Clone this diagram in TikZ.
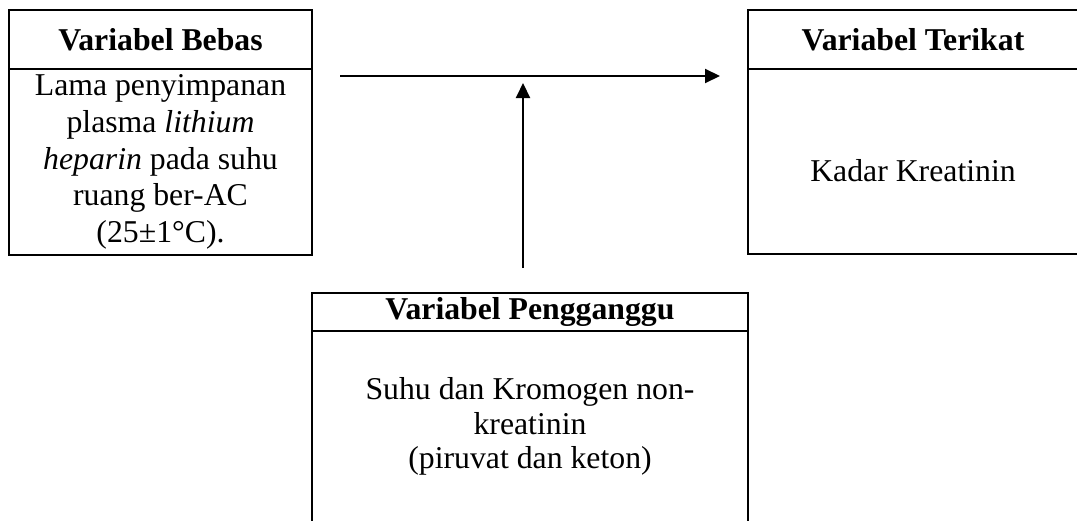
\documentclass[tikz,border=0pt]{standalone}
\usepackage{fontspec}
\setmainfont{Liberation Serif}
\usetikzlibrary{arrows.meta, positioning}

\begin{document}
\begin{tikzpicture}[
  x=0.4pt, y=-0.4pt,
  node distance=0pt,
  head/.style={
    draw, line width=1pt, outer sep=0pt, inner sep=1pt,
    minimum height=23.6pt,
    font=\fontsize{12.7}{14.7}\selectfont\bfseries,
  },
  body/.style={
    draw, line width=1pt, outer sep=0pt, inner sep=1pt,
    align=center, font=\fontsize{12.7}{14.7}\selectfont,
  },
  link/.style={-{Triangle[length=6pt,width=5.6pt]}, line width=0.8pt},
]
\useasboundingbox (0,0) rectangle (1077,520);

\node[head, minimum width=121.2pt] (bebas) at (160.5,39.5) {Variabel Bebas};
\node[body, minimum width=121.2pt, minimum height=74.4pt] (bebasisi) [below=of bebas]
  {Lama penyimpanan\\ plasma \textit{lithium}\\ \textit{heparin} pada suhu\\ ruang ber-AC\\ (25±1°C).};

\node[head, minimum width=132pt] (terikat) at (913,39.5) {Variabel Terikat};
\node[body, minimum width=132pt, minimum height=74pt] (terikatisi) [below=of terikat] {};
\node[font=\fontsize{12.7}{14.7}\selectfont] (kadar) at ([yshift=-3.8pt]terikatisi.center) {Kadar Kreatinin};

\node[head, minimum width=174.4pt, minimum height=15.2pt] (ganggu) at (530,312) {Variabel Pengganggu};
\node[body, minimum width=174.4pt, minimum height=76.4pt, font=\fontsize{12.7}{13.7}\selectfont] (gangguisi) [below=of ganggu]
  {Suhu dan Kromogen non-\\ kreatinin\\ (piruvat dan keton)};

\coordinate (kiri) at (340,76);
\coordinate (kanan) at (720,76);
\coordinate (bawah) at (523,268);
\coordinate (atas) at (523,83);
\draw[link] (kiri) -- (kanan);
\draw[link] (bawah) -- (atas);
\end{tikzpicture}
\end{document}
